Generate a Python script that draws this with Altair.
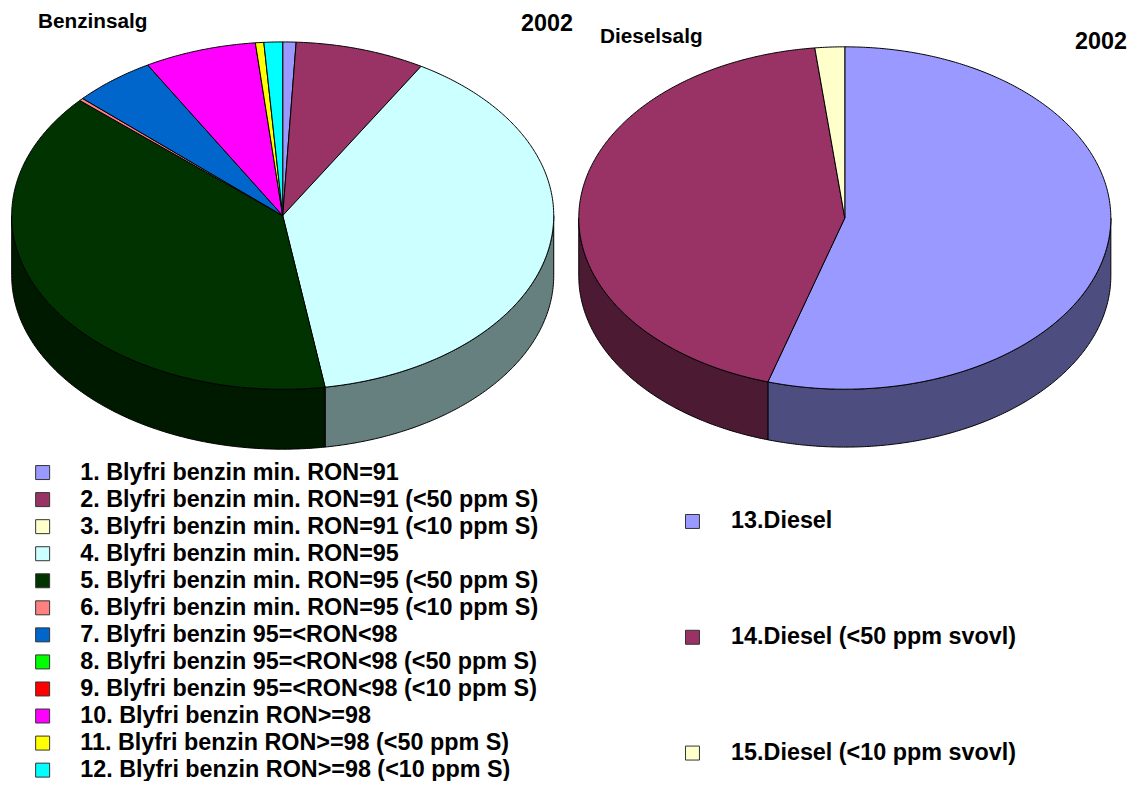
import math
import altair as alt

FONT = "Liberation Sans"

petrol_names = [
    "1. Blyfri benzin min. RON=91",
    "2. Blyfri benzin min. RON=91 (<50 ppm S)",
    "3. Blyfri benzin min. RON=91 (<10 ppm S)",
    "4. Blyfri benzin min. RON=95",
    "5. Blyfri benzin min. RON=95 (<50 ppm S)",
    "6. Blyfri benzin min. RON=95 (<10 ppm S)",
    "7. Blyfri benzin 95=<RON<98",
    "8. Blyfri benzin 95=<RON<98 (<50 ppm S)",
    "9. Blyfri benzin 95=<RON<98 (<10 ppm S)",
    "10. Blyfri benzin RON>=98",
    "11. Blyfri benzin RON>=98 (<50 ppm S)",
    "12. Blyfri benzin RON>=98 (<10 ppm S)",
]
petrol_shares = [0.79, 7.74, 0.0, 38.97, 39.03, 0.25, 4.92, 0.0, 0.0, 6.69, 0.5, 1.11]
petrol_colors = ["#9999FF", "#993366", "#FFFFCC", "#CCFFFF", "#003300", "#FF8080",
                 "#0066CC", "#00FF00", "#FF0000", "#FF00FF", "#FFFF00", "#00FFFF"]
petrol_sides = ["#4D4D80", "#4D1A33", "#808066", "#668080", "#001A00", "#804040",
                "#003366", "#008000", "#800000", "#800080", "#808000", "#008080"]

diesel_names = ["13.Diesel", "14.Diesel (<50 ppm svovl)", "15.Diesel (<10 ppm svovl)"]
diesel_shares = [54.67, 43.53, 1.8]
diesel_colors = ["#9999FF", "#993366", "#FFFFCC"]
diesel_sides = ["#4D4D80", "#4D1A33", "#808066"]

W, H = 1122, 773  # plot area, page margin is 8px
OX, OY = -8, -8   # pixel-picture origin inside the plot


def pt(cx, cy, rx, ry, deg, dz=0.0):
    r = math.radians(deg)
    return [cx + OX + rx * math.sin(r), cy + OY - ry * math.cos(r) + dz]


def arc(cx, cy, rx, ry, a, b, dz=0.0):
    n = max(2, int(abs(b - a) * 2) + 1)
    return [pt(cx, cy, rx, ry, a + (b - a) * i / (n - 1), dz) for i in range(n)]


def build(names, shares, sides, cx, cy, rx, ry, depth):
    tops, walls = [], []
    cum = 0.0
    for name, share, side in zip(names, shares, sides):
        a = cum * 3.6
        cum += share
        b = cum * 3.6
        if share <= 0:
            continue
        ring = [[cx + OX, cy + OY]] + arc(cx, cy, rx, ry, a, b) + [[cx + OX, cy + OY]]
        tops.append({"type": "Feature", "properties": {"name": name},
                     "geometry": {"type": "Polygon", "coordinates": [ring]}})
        lo, hi = max(a, 90.0), min(b, 270.0)
        if hi > lo:
            upper = arc(cx, cy, rx, ry, lo, hi)
            lower = arc(cx, cy, rx, ry, hi, lo, depth)
            wall = upper + lower + [upper[0]]
            walls.append({"type": "Feature", "properties": {"shade": side},
                          "geometry": {"type": "Polygon", "coordinates": [wall]}})
    return tops, walls


p_tops, p_walls = build(petrol_names, petrol_shares, petrol_sides, 283.2, 215.3, 271.5, 174, 60)
d_tops, d_walls = build(diesel_names, diesel_shares, diesel_sides, 846.3, 217.7, 266.5, 171.5, 58)


def with_proj(chart):
    return chart.project(type="identity", scale=1, translate=[0, 0])


def inline(features):
    return alt.InlineData(values={"type": "FeatureCollection", "features": features},
                          format=alt.DataFormat(property="features", type="json"))


def walls_layer(features):
    return with_proj(alt.Chart(inline(features))
            .mark_geoshape(stroke="black", strokeWidth=1)
            .encode(color=alt.Color("properties.shade:N", scale=None)))


def tops_layer(features, names, colors, lx, ly, row_pad, lab_off):
    legend = alt.Legend(
        title=None, orient="none", legendX=lx, legendY=ly,
        symbolType="square", symbolSize=196, symbolStrokeColor="#333333",
        symbolStrokeWidth=1, symbolOpacity=1,
        labelFont=FONT, labelFontWeight="bold", labelFontSize=23.4, labelColor="#000000",
        labelLimit=600, labelOffset=lab_off, rowPadding=row_pad, padding=0,
        values=names,
    )
    return with_proj(alt.Chart(inline(features))
            .mark_geoshape(stroke="black", strokeWidth=1)
            .encode(color=alt.Color("properties.name:N",
                                    scale=alt.Scale(domain=names, range=colors),
                                    legend=legend)))


def label(text, x, y, size):
    return (alt.Chart(alt.Data(values=[{"t": text}]))
            .mark_text(font=FONT, fontWeight="bold", fontSize=size, align="left",
                       baseline="alphabetic", color="black")
            .encode(x=alt.value(x + OX), y=alt.value(y + OY), text="t:N"))


chart = (
    alt.layer(
        walls_layer(p_walls),
        walls_layer(d_walls),
        tops_layer(p_tops, petrol_names, petrol_colors, 23, 453, 2.1, 26),
        tops_layer(d_tops, diesel_names, diesel_colors, 674, 502, 91, 27),
        label("Benzinsalg", 38, 27, 20.8),
        label("2002", 522, 30, 23.4),
        label("Dieselsalg", 601, 42, 20.8),
        label("2002", 1077, 48, 23.4),
    )
    .resolve_scale(color="independent")
    .properties(width=W, height=H, padding=0, background="white",
                autosize=alt.AutoSizeParams(type="none"))
    .configure_view(stroke=None)
)

chart.save("out.html", embed_options={"renderer": "svg", "actions": False})
